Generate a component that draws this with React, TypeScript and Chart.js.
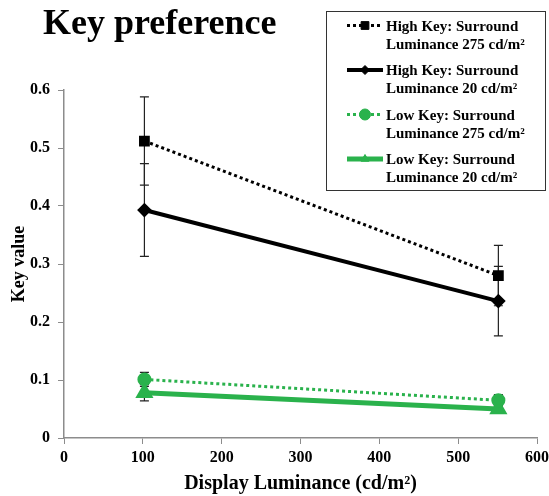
import React, { useEffect, useRef } from "react";
import { Chart, registerables } from "chart.js";
import { drawPoint } from "chart.js/helpers";

Chart.register(...registerables);

const chartTitle = "Key preference";
const xAxisTitle = "Display Luminance (cd/m²)";
const yAxisTitle = "Key value";

const displayLuminance = [102, 551];

const seriesLabels = [
  ["High Key: Surround", "Luminance 275 cd/m²"],
  ["High Key: Surround", "Luminance 20 cd/m²"],
  ["Low Key: Surround", "Luminance 275 cd/m²"],
  ["Low Key: Surround", "Luminance 20 cd/m²"],
];

const highKey275 = [0.512, 0.28];
const highKey275Err = [0.076, 0.052];
const highKey20 = [0.393, 0.236];
const highKey20Err = [0.08, 0.06];
const lowKey275 = [0.101, 0.065];
const lowKey275Err = [0.012, 0.01];
const lowKey20 = [0.078, 0.05];
const lowKey20Err = [0.014, 0.006];

const xTicks = [0, 100, 200, 300, 400, 500, 600];
const yTicks = [0, 0.1, 0.2, 0.3, 0.4, 0.5, 0.6];

const BLACK = "#000000";
const GREEN = "#2ab24c";
const SERIF = "'Liberation Serif', 'Times New Roman', serif";

const errorBars = [highKey275Err, highKey20Err, lowKey275Err, lowKey20Err];

const errorBarPlugin = {
  id: "errorBars",
  beforeDatasetsDraw(chart: any) {
    const ctx = chart.ctx;
    const y = chart.scales.y;
    ctx.save();
    ctx.strokeStyle = "#222";
    ctx.lineWidth = 1.2;
    chart.data.datasets.forEach((ds: any, i: number) => {
      const meta = chart.getDatasetMeta(i);
      const errs = errorBars[i];
      meta.data.forEach((pt: any, j: number) => {
        const v = ds.data[j].y;
        const e = errs[j];
        const top = y.getPixelForValue(v + e);
        const bot = y.getPixelForValue(v - e);
        const x = pt.x;
        ctx.beginPath();
        ctx.moveTo(x, top);
        ctx.lineTo(x, bot);
        ctx.moveTo(x - 4.5, top);
        ctx.lineTo(x + 4.5, top);
        ctx.moveTo(x - 4.5, bot);
        ctx.lineTo(x + 4.5, bot);
        ctx.stroke();
      });
    });
    ctx.restore();
  },
};

const titleLegendPlugin = {
  id: "titleLegend",
  afterDraw(chart: any) {
    const ctx = chart.ctx;
    ctx.save();
    ctx.fillStyle = "#000";
    ctx.font = `bold 36px ${SERIF}`;
    ctx.textAlign = "left";
    ctx.textBaseline = "alphabetic";
    ctx.fillText(chartTitle, 43, 34);

    const bx = 326.5;
    const by = 11.5;
    const bw = 219;
    const bh = 179;
    ctx.fillStyle = "#fff";
    ctx.fillRect(bx, by, bw, bh);
    ctx.strokeStyle = "#333";
    ctx.lineWidth = 1;
    ctx.strokeRect(bx, by, bw, bh);

    chart.data.datasets.forEach((ds: any, i: number) => {
      const rowY = by + 14 + i * 44.5;
      const lineY = rowY;
      ctx.save();
      ctx.strokeStyle = ds.borderColor;
      ctx.lineWidth = ds.borderWidth;
      ctx.setLineDash(ds.borderDash || []);
      ctx.lineCap = "butt";
      ctx.beginPath();
      ctx.moveTo(347, lineY);
      ctx.lineTo(383, lineY);
      ctx.stroke();
      ctx.restore();
      ctx.save();
      ctx.fillStyle = ds.pointBackgroundColor;
      ctx.strokeStyle = ds.pointBorderColor;
      ctx.lineWidth = 1;
      drawPoint(ctx, { pointStyle: ds.pointStyle, radius: ds.legendRadius, rotation: 0, borderWidth: 1 }, 365, lineY);
      ctx.restore();

      ctx.fillStyle = "#000";
      ctx.font = `bold 15px ${SERIF}`;
      ctx.textAlign = "left";
      ctx.textBaseline = "alphabetic";
      ctx.fillText(seriesLabels[i][0], 386, rowY + 5);
      ctx.fillText(seriesLabels[i][1], 386, rowY + 23);
    });
    ctx.restore();
  },
};

const mk = (vals: number[]) => vals.map((v, i) => ({ x: displayLuminance[i], y: v }));

export default function App() {
  const ref = useRef<HTMLCanvasElement | null>(null);
  useEffect(() => {
    document.body.style.margin = "0";
    const canvas = ref.current!;
    const chart = new Chart(canvas, {
      type: "line",
      data: {
        datasets: [
          {
            label: seriesLabels[0].join(" "),
            data: mk(highKey275),
            borderColor: BLACK,
            backgroundColor: BLACK,
            borderWidth: 3,
            borderDash: [3, 3],
            pointStyle: "rect",
            pointRadius: 5.5,
            pointBackgroundColor: BLACK,
            pointBorderColor: BLACK,
            legendRadius: 5.5,
          } as any,
          {
            label: seriesLabels[1].join(" "),
            data: mk(highKey20),
            borderColor: BLACK,
            backgroundColor: BLACK,
            borderWidth: 4,
            pointStyle: "rectRot",
            pointRadius: 4.5,
            pointBackgroundColor: BLACK,
            pointBorderColor: BLACK,
            legendRadius: 4.5,
          } as any,
          {
            label: seriesLabels[2].join(" "),
            data: mk(lowKey275),
            borderColor: GREEN,
            backgroundColor: GREEN,
            borderWidth: 3,
            borderDash: [3, 3],
            pointStyle: "circle",
            pointRadius: 5.5,
            pointBackgroundColor: GREEN,
            pointBorderColor: GREEN,
            legendRadius: 5.5,
          } as any,
          {
            label: seriesLabels[3].join(" "),
            data: mk(lowKey20),
            borderColor: GREEN,
            backgroundColor: GREEN,
            borderWidth: 5,
            pointStyle: "triangle",
            pointRadius: 5.5,
            pointBackgroundColor: GREEN,
            pointBorderColor: GREEN,
            legendRadius: 4.5,
          } as any,
        ],
      },
      options: {
        animation: false,
        responsive: false,
        maintainAspectRatio: false,
        layout: { autoPadding: false, padding: { top: 90, right: 12, left: 0, bottom: 0 } } as any,
        plugins: {
          legend: { display: false },
          title: { display: false },
          tooltip: { enabled: false },
        },
        scales: {
          x: {
            type: "linear",
            min: 0,
            max: 600,
            afterFit: (s: any) => {
              s.height = 58;
              s.paddingLeft = 0;
              s.paddingRight = 0;
            },
            afterBuildTicks: (s: any) => {
              s.ticks = xTicks.map((v) => ({ value: v }));
            },
            grid: { drawOnChartArea: false, drawTicks: true, tickLength: 6, color: "#8c8c8c" },
            border: { color: "#8c8c8c", width: 1.5 },
            ticks: {
              color: "#000",
              font: { family: SERIF, size: 16, weight: "bold" },
              padding: 4,
              maxRotation: 0,
            },
            title: {
              display: true,
              text: xAxisTitle,
              color: "#000",
              font: { family: SERIF, size: 20, weight: "bold" },
              padding: { top: 3, bottom: 0 },
            },
          },
          y: {
            type: "linear",
            min: 0,
            max: 0.6,
            afterFit: (s: any) => {
              s.width = 64;
              s.paddingTop = 0;
              s.paddingBottom = 0;
            },
            afterBuildTicks: (s: any) => {
              s.ticks = yTicks.map((v) => ({ value: v }));
            },
            grid: { drawOnChartArea: false, drawTicks: true, tickLength: 6, color: "#8c8c8c" },
            border: { color: "#8c8c8c", width: 1.5 },
            ticks: {
              color: "#000",
              font: { family: SERIF, size: 16, weight: "bold" },
              padding: 8,
              callback: (v: any) => String(Math.round(Number(v) * 10) / 10),
            },
            title: {
              display: true,
              text: yAxisTitle,
              color: "#000",
              font: { family: SERIF, size: 18, weight: "bold" },
              padding: { top: 9, bottom: 0 },
            },
          },
        },
      },
      plugins: [errorBarPlugin, titleLegendPlugin],
    });
    return () => chart.destroy();
  }, []);
  return <canvas ref={ref} width={549} height={496} style={{ display: "block", width: 549, height: 496 }} />;
}
